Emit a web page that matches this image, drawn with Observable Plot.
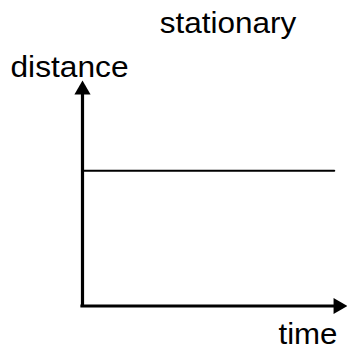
<!DOCTYPE html>
<html><head><meta charset="utf-8">
<script src="https://cdn.jsdelivr.net/npm/d3@7"></script>
<script src="https://cdn.jsdelivr.net/npm/@observablehq/plot@0.6"></script>
<style>body{margin:0;background:#fff} svg{display:block}</style>
</head><body><div id="chart"></div>
<script>
const title = "stationary";
const xLabel = "time";
const yLabel = "distance";
const timeValues = [0, 9.5];
const distanceValues = [6, 6];
const axisMax = 10;

const series = timeValues.map((t, i) => ({time: t, distance: distanceValues[i]}));

const font = "'Liberation Sans', Arial, sans-serif";
const chart = Plot.plot({
  width: 347, height: 349,
  marginLeft: 82, marginRight: 0, marginTop: 80, marginBottom: 43.5,
  style: {fontFamily: font, background: "white", color: "black"},
  x: {domain: [0, axisMax], axis: null},
  y: {domain: [0, axisMax], axis: null},
  marks: [
    Plot.line(series, {x: "time", y: "distance", stroke: "black", strokeWidth: 2}),
    Plot.ruleX([0], {y1: axisMax, y2: 0, stroke: "black", strokeWidth: 3.2, insetTop: 8, strokeLinecap: "square"}),
    Plot.ruleY([0], {x1: 0, x2: axisMax, stroke: "black", strokeWidth: 3.2, insetRight: 8, strokeLinecap: "square"}),
    Plot.dot([{x: 0, y: axisMax}], {x: "x", y: "y", symbol: "triangle", r: 6, fill: "black", dy: 9.3}),
    Plot.dot([{x: axisMax, y: 0}], {x: "x", y: "y", symbol: "triangle", r: 6, fill: "black", rotate: 90, dx: -9.3}),
    Plot.text([title], {text: d => d, frameAnchor: "top-left", textAnchor: "start", lineAnchor: "bottom", dx: 77.3, dy: -47.3, fontSize: 29, fill: "black"}),
    Plot.text([yLabel], {text: d => d, frameAnchor: "top-left", textAnchor: "start", lineAnchor: "bottom", dx: -72, dy: -3.3, fontSize: 29, fill: "black"}),
    Plot.text([xLabel], {text: d => d, frameAnchor: "bottom-right", textAnchor: "end", lineAnchor: "bottom", dx: -10, dy: 37.8, fontSize: 29, fill: "black"})
  ]
});
const lengths = {[title]: 136.5, [yLabel]: 118, [xLabel]: 59};
d3.select(chart).selectAll("text").each(function() {
  const t = this.textContent;
  if (lengths[t]) {
    this.setAttribute("textLength", lengths[t]);
    this.setAttribute("lengthAdjust", "spacingAndGlyphs");
  }
});
document.getElementById("chart").append(chart);
</script>
</body></html>
